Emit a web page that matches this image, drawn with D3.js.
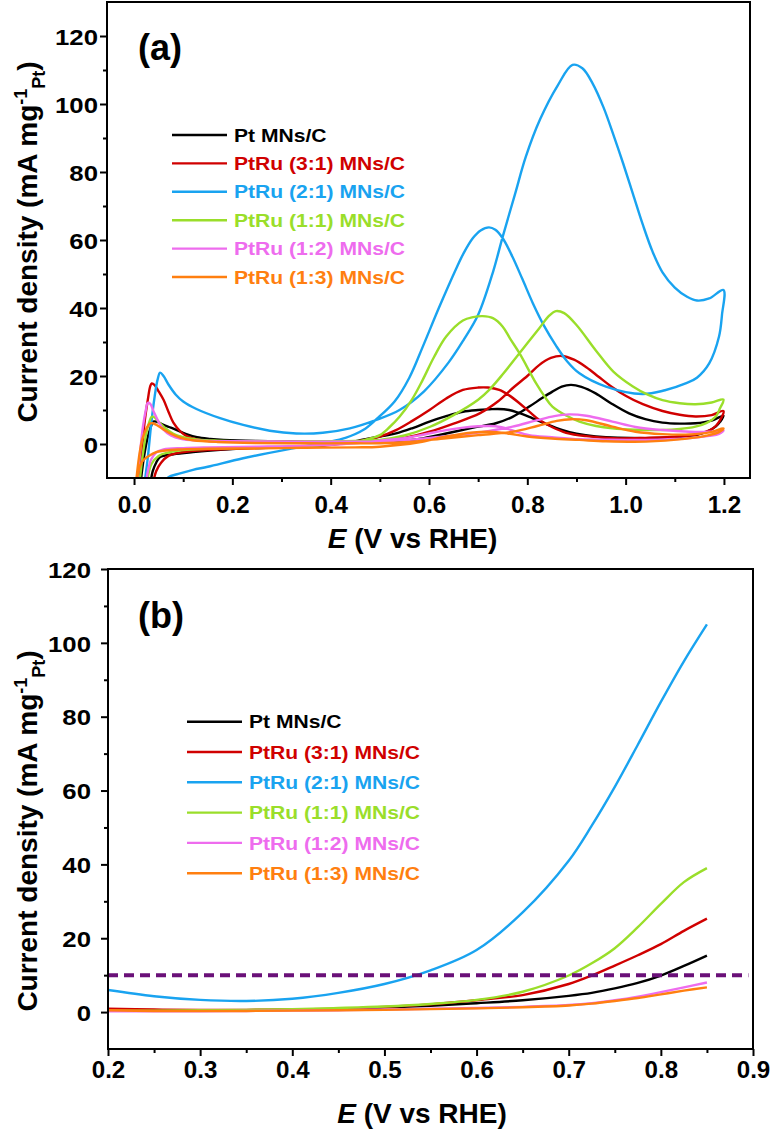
<!DOCTYPE html>
<html>
<head>
<meta charset="utf-8">
<script src="https://cdn.jsdelivr.net/npm/d3@7"></script>
<style>
  html, body { margin: 0; padding: 0; background: #fff; }
  svg { display: block; }
</style>
</head>
<body>
<svg id="chart" width="771" height="1129"></svg>
<script>
// ---------------- DATA ----------------
const seriesNames = ["Pt MNs/C", "PtRu (3:1) MNs/C", "PtRu (2:1) MNs/C", "PtRu (1:1) MNs/C", "PtRu (1:2) MNs/C", "PtRu (1:3) MNs/C"];
const seriesColors = ["#000000", "#d00000", "#19a3f0", "#9ade2a", "#ee6cee", "#ff7f10"];

// Panel (a): cyclic voltammograms, [E (V), j (mA mg-1 Pt)], forward then backward scan
const cvPt = [[0.012,-13],[0.02,-4],[0.027,1.5],[0.033,4.5],[0.039,6.6],[0.047,6.5],[0.06,5.6],[0.075,4.8],[0.087,4.1],[0.105,3],[0.128,2],[0.155,1.5],[0.182,1.2],[0.25,0.9],[0.35,0.8],[0.45,0.8],[0.53,0.9],[0.58,1.5],[0.635,3.1],[0.69,4.8],[0.736,6.1],[0.77,8],[0.804,11],[0.83,13.5],[0.851,15.4],[0.87,16.9],[0.889,17.4],[0.91,16.8],[0.939,14.9],[0.97,12],[1.007,9],[1.04,7.3],[1.075,6.3],[1.11,6],[1.142,6.1],[1.175,6.9],[1.199,8.3],
  [1.192,6.5],[1.183,5.1],[1.165,3.6],[1.142,2.6],[1.1,2],[1.041,1.7],[0.939,2.2],[0.9,3],[0.872,4.1],[0.84,5.8],[0.804,8],[0.78,9.3],[0.763,10],[0.74,10.3],[0.723,10.2],[0.7,10],[0.669,9.5],[0.635,8.2],[0.601,6.6],[0.567,4.7],[0.533,3.1],[0.5,2.2],[0.46,1.1],[0.42,0.2],[0.35,-0.7],[0.222,-1.3],[0.12,-2.4],[0.08,-3],[0.053,-3.8],[0.045,-5.5],[0.038,-8],[0.033,-12]];
const cvPtRu31 = [[0.008,-13],[0.015,-3],[0.022,7],[0.028,13],[0.033,17],[0.036,17.8],[0.042,17.3],[0.05,15.5],[0.06,13],[0.07,9.5],[0.08,6.3],[0.095,3.6],[0.107,2.3],[0.13,1.3],[0.154,0.9],[0.25,0.7],[0.35,0.7],[0.45,0.8],[0.5,1],[0.55,1.8],[0.601,3.6],[0.65,6],[0.703,9],[0.74,12.5],[0.77,16.4],[0.8,20],[0.824,23.2],[0.848,25.3],[0.87,25.9],[0.895,24.8],[0.92,22.6],[0.945,19.8],[0.97,17],[1.0,14.2],[1.035,11.7],[1.075,9.7],[1.11,8.6],[1.142,8.1],[1.175,8.5],[1.199,9.7],
  [1.19,6.5],[1.178,4.6],[1.15,3],[1.109,2.2],[1.04,1.8],[0.973,1.7],[0.92,2.3],[0.879,3.3],[0.85,5],[0.824,7.1],[0.804,9.5],[0.784,12],[0.763,14.3],[0.743,15.9],[0.72,16.6],[0.7,16.6],[0.669,15.9],[0.635,13.4],[0.601,10],[0.566,6.8],[0.533,4.1],[0.5,2.2],[0.47,1.2],[0.43,0.3],[0.38,-0.5],[0.3,-1],[0.2,-1.4],[0.13,-1.9],[0.09,-2.6],[0.07,-3.5],[0.055,-5.5],[0.045,-8],[0.038,-12]];
const cvPtRu21 = [[0.02,-13],[0.028,-4],[0.035,6],[0.042,14],[0.048,19],[0.053,21],[0.06,20],[0.07,17.5],[0.085,14.5],[0.1,12.5],[0.127,10.3],[0.175,7.6],[0.222,5.6],[0.276,3.9],[0.33,3.1],[0.384,3.3],[0.439,4.6],[0.493,7.1],[0.54,10],[0.59,15.5],[0.64,24],[0.67,30.5],[0.7,38],[0.73,50.5],[0.75,61],[0.775,73.5],[0.797,84.5],[0.826,95.5],[0.862,105.5],[0.892,111.5],[0.912,110.5],[0.933,106],[0.955,99],[0.975,91],[0.995,82.5],[1.015,73.5],[1.035,64.5],[1.055,56.5],[1.075,50.5],[1.1,46],[1.125,43.3],[1.145,42.2],[1.17,42.8],[1.199,45.3],
  [1.196,38],[1.19,31.6],[1.17,23.7],[1.145,19.5],[1.122,17.8],[1.08,15.8],[1.034,14.7],[0.96,16.9],[0.906,20.8],[0.88,24.5],[0.858,29],[0.835,34.5],[0.811,41.5],[0.79,48.5],[0.77,55],[0.75,60.5],[0.735,63],[0.722,63.7],[0.705,62.8],[0.689,60.5],[0.67,56],[0.655,51.5],[0.62,40],[0.587,28.5],[0.56,19.5],[0.53,12.5],[0.493,7.3],[0.466,4.1],[0.43,1.8],[0.391,0.5],[0.323,-1.3],[0.222,-4.2],[0.15,-6.7],[0.12,-7.6],[0.09,-8.8],[0.07,-9.8],[0.06,-12]];
const cvPtRu11 = [[0.01,-13],[0.017,-4],[0.024,2.5],[0.03,6],[0.036,8],[0.042,7.8],[0.05,6.5],[0.065,4.5],[0.08,3],[0.1,2],[0.13,1.3],[0.17,1],[0.25,0.8],[0.35,0.8],[0.45,0.9],[0.5,1.2],[0.55,2.5],[0.601,5],[0.65,8.5],[0.7,13],[0.723,16],[0.75,20.5],[0.784,26.7],[0.824,34],[0.845,37.8],[0.858,39.1],[0.875,38.5],[0.9,35],[0.939,27.6],[0.975,21.3],[1.014,17],[1.045,14.5],[1.075,12.9],[1.11,12],[1.142,11.7],[1.175,12.2],[1.199,13.1],
  [1.192,10.5],[1.183,8],[1.165,6.2],[1.142,5.1],[1.11,4.4],[1.075,4.1],[1.02,4.2],[0.973,4.6],[0.94,5.3],[0.906,6.6],[0.88,8.3],[0.851,11],[0.835,14],[0.818,17.8],[0.784,26.7],[0.765,31],[0.75,34.5],[0.73,37],[0.709,37.6],[0.69,37.3],[0.669,36.3],[0.635,31.6],[0.61,25.5],[0.587,18.8],[0.565,13],[0.54,8],[0.52,5],[0.5,2.6],[0.47,1.2],[0.43,0.3],[0.35,-0.6],[0.25,-1],[0.15,-1.4],[0.1,-1.8],[0.07,-2.5],[0.05,-3.5],[0.035,-6],[0.026,-12]];
const cvPtRu12 = [[0.005,-13],[0.012,-3],[0.018,5],[0.024,10],[0.028,12.1],[0.033,11.8],[0.04,9.5],[0.05,6.5],[0.06,4.2],[0.075,2.5],[0.095,1.5],[0.13,1],[0.2,0.8],[0.35,0.7],[0.45,0.7],[0.5,0.7],[0.56,1.2],[0.635,2.3],[0.669,2.8],[0.72,3.8],[0.77,5.1],[0.82,7],[0.855,8.2],[0.885,8.7],[0.92,8.3],[0.973,6.6],[1.02,5],[1.075,4.1],[1.13,3.6],[1.17,3.6],[1.199,4],
  [1.19,3],[1.17,2.4],[1.12,1.6],[1.041,1.2],[0.95,1.3],[0.906,1.4],[0.85,2],[0.804,2.6],[0.77,4],[0.745,5],[0.723,5.3],[0.7,5.2],[0.67,4.8],[0.635,4.1],[0.59,2.8],[0.55,1.7],[0.5,1],[0.45,0.2],[0.35,-0.5],[0.25,-0.8],[0.15,-1],[0.1,-1.2],[0.06,-1.6],[0.045,-2.5],[0.035,-4.5],[0.028,-8],[0.024,-12]];
const cvPtRu13 = [[0.003,-13],[0.01,-4],[0.017,1.5],[0.025,4.5],[0.032,6],[0.038,6.1],[0.046,5.6],[0.06,4.3],[0.075,3],[0.095,1.8],[0.12,1.1],[0.17,0.6],[0.25,0.3],[0.35,0.2],[0.45,0.2],[0.5,0.2],[0.56,0.6],[0.635,1.7],[0.7,2.6],[0.77,3.6],[0.82,5.3],[0.86,6.8],[0.889,7.3],[0.92,7],[0.973,5.1],[1.02,3.6],[1.075,2.9],[1.13,2.8],[1.17,3.4],[1.199,4.6],
  [1.19,3.5],[1.17,2.6],[1.12,1.5],[1.041,0.7],[0.96,0.8],[0.906,1.2],[0.85,1.6],[0.8,2.2],[0.76,3.1],[0.723,3.6],[0.69,3.4],[0.635,2.2],[0.58,0.5],[0.5,-0.8],[0.45,-1],[0.35,-1.1],[0.25,-1.3],[0.15,-1.4],[0.09,-1.6],[0.06,-2],[0.045,-2.4],[0.03,-3.5],[0.019,-4.7],[0.012,-6.5],[0.004,-12]];

// Panel (b): linear sweeps
const lsvE       = [0.2,0.25,0.3,0.35,0.4,0.45,0.5,0.55,0.6,0.65,0.7,0.725,0.75,0.775,0.8,0.825,0.85];
const lsvPt      = [0.5,0.4,0.4,0.5,0.6,0.8,1.2,1.7,2.4,3.2,4.4,5.2,6.4,7.9,9.9,12.5,15.3];
const lsvPtRu31  = [0.9,0.7,0.6,0.6,0.7,0.9,1.4,2.1,3.2,4.6,7.6,9.9,12.6,15.4,18.4,22,25.3];
const lsvPtRu21  = [6.0,4.3,3.3,3.0,3.6,5.2,7.6,11.3,16.8,27,41,50.5,61,72.4,84,95,105];
const lsvPtRu11  = [0.4,0.4,0.5,0.6,0.8,1.1,1.5,2.2,3.3,5.5,9.9,13.2,17.3,23,29.3,35.2,39];
const lsvPtRu12  = [0.2,0.2,0.2,0.3,0.4,0.5,0.7,0.9,1.1,1.4,1.9,2.4,3.2,4.2,5.4,6.7,8.0];
const lsvPtRu13  = [0.5,0.3,0.3,0.3,0.4,0.5,0.6,0.8,1.0,1.3,1.8,2.3,3.0,3.8,4.8,5.8,6.7];
const thresholdE = [0.2, 0.895];
const thresholdJ = 10;

// Ticks
const xTicksA = [0,0.2,0.4,0.6,0.8,1.0,1.2];
const xMinorA = [0.1,0.3,0.5,0.7,0.9,1.1];
const yTicksA = [0,20,40,60,80,100,120];
const yMinorA = [10,30,50,70,90,110];
const xTicksB = [0.2,0.3,0.4,0.5,0.6,0.7,0.8,0.9];
const xMinorB = [0.25,0.35,0.45,0.55,0.65,0.75,0.85];
const yTicksB = [0,20,40,60,80,100,120];
const yMinorB = [10,30,50,70,90,110];

// ---------------- DRAW ----------------
const svg = d3.select("#chart");
svg.append("rect").attr("width",771).attr("height",1129).attr("fill","#fff");
const FONT = "'Liberation Sans', Arial, Helvetica, sans-serif";

const cvData = [cvPt, cvPtRu31, cvPtRu21, cvPtRu11, cvPtRu12, cvPtRu13];
const lsvData = [lsvPt, lsvPtRu31, lsvPtRu21, lsvPtRu11, lsvPtRu12, lsvPtRu13];

const xA = d3.scaleLinear().domain([-0.055, 1.253]).range([107, 750]);
const yA = d3.scaleLinear().domain([-10, 130]).range([478, 2]);
const xB = d3.scaleLinear().domain([0.2, 0.9]).range([108, 753]);
const yB = d3.scaleLinear().domain([-10, 120]).range([1049, 569]);

const YTICK_SX = 1.12, XTICK_SX = 1.05, LEG_SX = 1.14;

function panel(id, x, y, xt, xm, yt, ym, cfg) {
  const g = svg.append("g");
  const [x0, x1] = x.range(), [y0, y1] = y.range();
  g.append("clipPath").attr("id", "clip" + id)
    .append("rect").attr("x", x0).attr("y", y1).attr("width", x1 - x0).attr("height", y0 - y1);

  // axes
  const fmt = d3.format(".1f");
  const xa = g.append("g").attr("transform", `translate(0,${y0})`)
    .call(d3.axisBottom(x).tickValues(xt).tickSize(7).tickSizeOuter(0).tickFormat(fmt));
  const xmi = g.append("g").attr("transform", `translate(0,${y0})`)
    .call(d3.axisBottom(x).tickValues(xm).tickSize(4).tickSizeOuter(0).tickFormat(""));
  const ya = g.append("g").attr("transform", `translate(${x0},0)`)
    .call(d3.axisLeft(y).tickValues(yt).tickSize(7).tickSizeOuter(0).tickFormat(d3.format("d")));
  const ymi = g.append("g").attr("transform", `translate(${x0},0)`)
    .call(d3.axisLeft(y).tickValues(ym).tickSize(4).tickSizeOuter(0).tickFormat(""));
  [xa, xmi, ya, ymi].forEach(a => {
    a.select(".domain").remove();
    a.selectAll("line").attr("stroke", "#000").attr("stroke-width", 2);
  });
  xa.selectAll("text").attr("y", cfg.xLabelDy).attr("dy", null).attr("x", 0)
    .attr("transform", `scale(${XTICK_SX},1)`)
    .attr("font-family", FONT).attr("font-weight", "bold").attr("font-size", 23).attr("fill", "#000");
  ya.selectAll("text").attr("x", cfg.yLabelDx / YTICK_SX).attr("dy", "0.36em")
    .attr("transform", `scale(${YTICK_SX},1)`)
    .attr("font-family", FONT).attr("font-weight", "bold").attr("font-size", 23).attr("fill", "#000");

  // curves
  const cg = g.append("g").attr("clip-path", `url(#clip${id})`);
  cfg.drawCurves(cg);

  // frame
  g.append("rect").attr("x", x0).attr("y", y1).attr("width", x1 - x0).attr("height", y0 - y1)
    .attr("fill", "none").attr("stroke", "#000").attr("stroke-width", 2);

  // panel tag
  g.append("text").attr("x", 138).attr("y", cfg.tagY).text(cfg.tag)
    .attr("font-family", FONT).attr("font-weight", "bold").attr("font-size", 36);

  // legend
  const lg = g.append("g");
  seriesNames.forEach((n, i) => {
    const yy = cfg.legY + i * cfg.legStep;
    lg.append("line").attr("x1", cfg.legX).attr("x2", cfg.legX + 55).attr("y1", yy).attr("y2", yy)
      .attr("stroke", seriesColors[i]).attr("stroke-width", 2.4);
    lg.append("text").attr("transform", `translate(${cfg.legX + 62},${yy}) scale(${LEG_SX},1)`)
      .attr("dy", "0.36em").text(n)
      .attr("fill", seriesColors[i]).attr("font-family", FONT).attr("font-weight", "bold").attr("font-size", 18.5);
  });

  // y label
  const yl = g.append("text").attr("transform", `translate(37,${cfg.yTitleY}) rotate(-90)`)
    .attr("text-anchor", "middle").attr("font-family", FONT).attr("font-weight", "bold").attr("font-size", 28);
  yl.append("tspan").text("Current density (mA mg");
  yl.append("tspan").attr("dy", -10).attr("font-size", 18).text("-1");
  yl.append("tspan").attr("dy", 18).attr("font-size", 18).text("Pt");
  yl.append("tspan").attr("dy", -8).text(")");

  // x label
  const xl = g.append("text").attr("x", cfg.xTitleX).attr("y", cfg.xTitleY).attr("text-anchor", "middle")
    .attr("font-family", FONT).attr("font-weight", "bold").attr("font-size", 28);
  xl.append("tspan").attr("font-style", "italic").text("E");
  xl.append("tspan").text(" (V vs RHE)");
}

// Panel (a)
const lineA = d3.line().x(d => xA(d[0])).y(d => yA(d[1])).curve(d3.curveCatmullRom.alpha(0.5));
panel("A", xA, yA, xTicksA, xMinorA, yTicksA, yMinorA, {
  xLabelDy: 35, yLabelDx: -9, tag: "(a)", tagY: 60,
  legX: 172, legY: 135, legStep: 28.4, yTitleY: 242, xTitleX: 412.5, xTitleY: 548,
  drawCurves: cg => {
    cvData.forEach((d, i) => {
      cg.append("path").attr("d", lineA(d)).attr("fill", "none")
        .attr("stroke", seriesColors[i]).attr("stroke-width", 2.4).attr("stroke-linejoin", "round");
    });
  }
});

// Panel (b)
const lineB = d3.line().x(d => xB(d[0])).y(d => yB(d[1])).curve(d3.curveCatmullRom.alpha(0.5));
panel("B", xB, yB, xTicksB, xMinorB, yTicksB, yMinorB, {
  xLabelDy: 29, yLabelDx: -17, tag: "(b)", tagY: 628,
  legX: 187, legY: 721.7, legStep: 30.3, yTitleY: 831, xTitleX: 422, xTitleY: 1123,
  drawCurves: cg => {
    lsvData.forEach((vals, i) => {
      const pts = lsvE.map((e, k) => [e, vals[k]]);
      cg.append("path").attr("d", lineB(pts)).attr("fill", "none")
        .attr("stroke", seriesColors[i]).attr("stroke-width", 2.4);
    });
    cg.append("line").attr("x1", xB(thresholdE[0])).attr("x2", xB(thresholdE[1]))
      .attr("y1", yB(thresholdJ)).attr("y2", yB(thresholdJ))
      .attr("stroke", "#6a1078").attr("stroke-width", 4).attr("stroke-dasharray", "10,6");
  }
});
</script>
</body>
</html>
